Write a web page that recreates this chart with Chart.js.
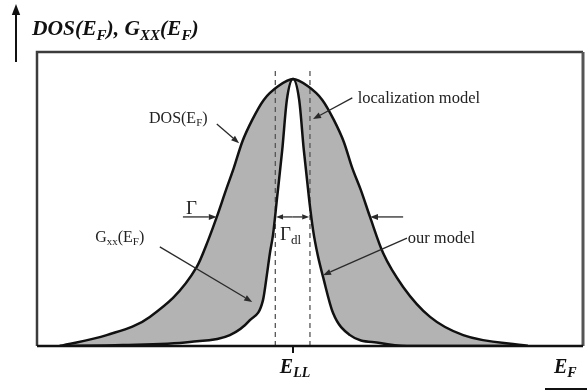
<!DOCTYPE html>
<html>
<head>
<meta charset="utf-8">
<script src="https://cdn.jsdelivr.net/npm/chart.js@4.4.0/dist/chart.umd.min.js"></script>
<style>
  html, body { margin: 0; padding: 0; background: #fff; }
  canvas { display: block; }
</style>
</head>
<body>
<canvas id="c" width="587" height="391"></canvas>
<script>
// Energy axis: E - E_LL (arbitrary units, Γ = 1)
const dosE = [-3.03, -2.42, -1.86, -1.25, -1.10, -0.99, -0.87, -0.77, -0.66, -0.53, -0.38, -0.19, 0.00, 0.19, 0.38, 0.53, 0.66, 0.77, 0.88, 1.00, 1.17, 1.43, 1.78, 2.21, 3.05];
const dosV = [0.000, 0.037, 0.099, 0.269, 0.361, 0.439, 0.531, 0.605, 0.694, 0.769, 0.837, 0.884, 0.908, 0.884, 0.837, 0.769, 0.694, 0.605, 0.531, 0.439, 0.316, 0.201, 0.099, 0.037, 0.000];

const gxxE = [-3.03, -2.21, -1.34, -0.82, -0.56, -0.39, -0.34, -0.30, -0.26, -0.21, -0.14, -0.08, 0.00, 0.08, 0.14, 0.21, 0.26, 0.32, 0.39, 0.52, 0.74, 1.13, 1.48, 3.05];
const gxxV = [0.000, 0.003, 0.014, 0.037, 0.088, 0.156, 0.241, 0.316, 0.378, 0.497, 0.667, 0.837, 0.908, 0.837, 0.667, 0.497, 0.395, 0.310, 0.235, 0.112, 0.037, 0.010, 0.000, 0.000];

// Dashed markers bounding Γ_dl
const dashE = [-0.23, 0.22];
const dashTop = 0.939;

const xMin = -3.325, xMax = 3.766;

const zip = (xs, ys) => xs.map((x, i) => ({ x, y: ys[i] }));

const SERIF = '"Liberation Serif", "DejaVu Serif", serif';

function drawRich(ctx, x, y, parts, size, style) {
  let cx = x;
  for (const [txt, kind] of parts) {
    if (kind === 'sub') {
      ctx.font = `${style} ${Math.round(size * 0.68)}px ${SERIF}`;
      ctx.fillText(txt, cx, y + size * 0.22);
    } else {
      ctx.font = `${style} ${size}px ${SERIF}`;
      ctx.fillText(txt, cx, y);
    }
    cx += ctx.measureText(txt).width;
  }
  return cx;
}

function arrow(ctx, x1, y1, x2, y2, head, width, color) {
  ctx.save();
  ctx.strokeStyle = color; ctx.fillStyle = color; ctx.lineWidth = width;
  const a = Math.atan2(y2 - y1, x2 - x1);
  const bx = x2 - head * Math.cos(a), by = y2 - head * Math.sin(a);
  ctx.beginPath(); ctx.moveTo(x1, y1); ctx.lineTo(bx, by); ctx.stroke();
  ctx.beginPath();
  ctx.moveTo(x2, y2);
  ctx.lineTo(bx + head * 0.38 * Math.sin(a), by - head * 0.38 * Math.cos(a));
  ctx.lineTo(bx - head * 0.38 * Math.sin(a), by + head * 0.38 * Math.cos(a));
  ctx.closePath(); ctx.fill();
  ctx.restore();
}

const overlay = {
  id: 'overlay',
  afterDraw(chart) {
    const ctx = chart.ctx;
    const xs = chart.scales.x, ys = chart.scales.y;
    const A = chart.chartArea;
    const P = (e, v) => [xs.getPixelForValue(e), ys.getPixelForValue(v)];
    ctx.save();

    // frame
    ctx.lineWidth = 2.5;
    ctx.strokeStyle = '#3c3c3c';
    ctx.beginPath();
    ctx.moveTo(A.left, A.bottom); ctx.lineTo(A.left, A.top); ctx.lineTo(A.right, A.top); ctx.stroke();
    ctx.strokeStyle = '#555';
    ctx.lineWidth = 3;
    ctx.beginPath(); ctx.moveTo(A.right, A.top); ctx.lineTo(A.right, A.bottom); ctx.stroke();
    ctx.strokeStyle = '#111';
    ctx.lineWidth = 2.5;
    ctx.beginPath(); ctx.moveTo(A.left, A.bottom); ctx.lineTo(A.right, A.bottom); ctx.stroke();

    // E_LL tick
    const x0 = xs.getPixelForValue(0);
    ctx.lineWidth = 2;
    ctx.beginPath(); ctx.moveTo(x0, A.bottom); ctx.lineTo(x0, A.bottom + 7); ctx.stroke();

    ctx.fillStyle = '#111';
    ctx.textBaseline = 'alphabetic';

    // E_LL label
    ctx.font = `italic bold 20px ${SERIF}`;
    const wE = ctx.measureText('E').width;
    ctx.font = `italic bold 14px ${SERIF}`;
    const wLL = ctx.measureText('LL').width;
    drawRich(ctx, x0 - (wE + wLL) / 2 + 2, A.bottom + 27, [['E', 'm'], ['LL', 'sub']], 20, 'italic bold');

    // E_F label at right with arrow
    drawRich(ctx, A.right - 29, A.bottom + 27, [['E', 'm'], ['F', 'sub']], 20, 'italic bold');
    ctx.save();
    ctx.lineWidth = 2; ctx.strokeStyle = '#111';
    ctx.beginPath(); ctx.moveTo(A.right - 38, A.bottom + 43); ctx.lineTo(A.right + 8, A.bottom + 43); ctx.stroke();
    ctx.restore();

    // y title with arrow
    arrow(ctx, 16, A.top + 10, 16, 4, 11, 2, '#111');
    drawRich(ctx, 32, 35, [['DOS(E', 'm'], ['F', 'sub'], ['), G', 'm'], ['XX', 'sub'], ['(E', 'm'], ['F', 'sub'], [')', 'm']], 21.5, 'italic bold');

    // in-plot annotations (data coordinates)
    ctx.fillStyle = '#222';
    const fs = 16.5;
    let p;
    p = P(-1.87, 0.759); drawRich(ctx, p[0], p[1], [['DOS(E', 'm'], ['F', 'sub'], [')', 'm']], 16, 'normal');
    p = P(-2.57, 0.354); drawRich(ctx, p[0], p[1], [['G', 'm'], ['xx', 'sub'], ['(E', 'm'], ['F', 'sub'], [')', 'm']], 16, 'normal');
    p = P(0.84, 0.827); drawRich(ctx, p[0], p[1], [['localization model', 'm']], fs, 'normal');
    p = P(1.49, 0.350); drawRich(ctx, p[0], p[1], [['our model', 'm']], fs, 'normal');
    p = P(-1.39, 0.449); drawRich(ctx, p[0], p[1], [['Γ', 'm']], 19, 'normal');
    p = P(-0.17, 0.361); drawRich(ctx, p[0], p[1], [['Γ', 'm'], ['dl', 'sub']], 19, 'normal');

    const ac = '#2a2a2a';
    let a, b;
    a = P(-0.99, 0.755); b = P(-0.70, 0.690); arrow(ctx, a[0], a[1], b[0], b[1], 8, 1.3, ac);
    a = P(-1.73, 0.337); b = P(-0.53, 0.150); arrow(ctx, a[0], a[1], b[0], b[1], 8, 1.3, ac);
    a = P(0.77, 0.844); b = P(0.26, 0.772); arrow(ctx, a[0], a[1], b[0], b[1], 8, 1.3, ac);
    a = P(1.48, 0.367); b = P(0.39, 0.241); arrow(ctx, a[0], a[1], b[0], b[1], 8, 1.3, ac);
    a = P(-1.43, 0.439); b = P(-0.99, 0.439); arrow(ctx, a[0], a[1], b[0], b[1], 8, 1.3, ac);
    a = P(1.43, 0.439); b = P(1.00, 0.439); arrow(ctx, a[0], a[1], b[0], b[1], 8, 1.3, ac);
    a = P(-0.22, 0.439); b = P(0.21, 0.439);
    const m = [(a[0] + b[0]) / 2, a[1]];
    arrow(ctx, m[0], m[1], a[0], a[1], 7, 1.3, ac);
    arrow(ctx, m[0], m[1], b[0], b[1], 7, 1.3, ac);

    ctx.restore();
  }
};

new Chart(document.getElementById('c'), {
  type: 'line',
  data: {
    datasets: [
      { label: 'DOS(E_F)', data: zip(dosE, dosV), borderColor: '#111', borderWidth: 2.5,
        fill: '+1', backgroundColor: '#b3b3b3', cubicInterpolationMode: 'monotone', pointRadius: 0 },
      { label: 'G_xx(E_F)', data: zip(gxxE, gxxV), borderColor: '#111', borderWidth: 2.5,
        fill: false, cubicInterpolationMode: 'monotone', pointRadius: 0 },
      { label: 'dash1', data: [{ x: dashE[0], y: 0 }, { x: dashE[0], y: dashTop }], borderColor: '#555',
        borderWidth: 1.3, borderDash: [5, 4], fill: false, pointRadius: 0 },
      { label: 'dash2', data: [{ x: dashE[1], y: 0 }, { x: dashE[1], y: dashTop }], borderColor: '#555',
        borderWidth: 1.3, borderDash: [5, 4], fill: false, pointRadius: 0 }
    ]
  },
  options: {
    responsive: false,
    animation: false,
    devicePixelRatio: 1,
    layout: { padding: { left: 37, top: 52, right: 4, bottom: 45 } },
    scales: {
      x: { type: 'linear', min: xMin, max: xMax, display: false },
      y: { type: 'linear', min: 0, max: 1, display: false }
    },
    plugins: {
      legend: { display: false },
      tooltip: { enabled: false },
      filler: { drawTime: 'beforeDatasetsDraw' }
    }
  },
  plugins: [overlay]
});
</script>
</body>
</html>
